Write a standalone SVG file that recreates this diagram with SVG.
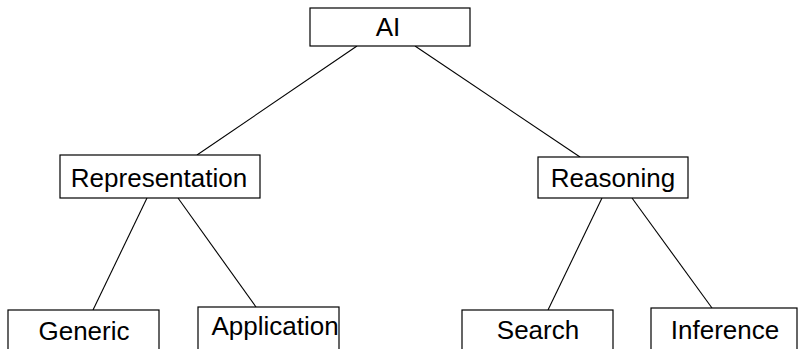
<svg xmlns="http://www.w3.org/2000/svg" width="801" height="349" viewBox="0 0 801 349">
  <style>
    .box { fill: #fff; stroke: #000; stroke-width: 1.2; }
    .lbl { font-family: "Liberation Sans", Arial, sans-serif; font-size: 26px; fill: #000; text-anchor: middle; }
    .edge { stroke: #000; stroke-width: 1.1; fill: none; }
  </style>
  <rect width="801" height="349" fill="#fff"/>
  <g id="connectors">
    <line class="edge" x1="357" y1="46" x2="197" y2="155"/>
    <line class="edge" x1="415" y1="46" x2="580" y2="157"/>
    <line class="edge" x1="147" y1="198" x2="93" y2="310"/>
    <line class="edge" x1="178" y1="198" x2="256" y2="307"/>
    <line class="edge" x1="602" y1="198" x2="548" y2="310"/>
    <line class="edge" x1="632" y1="198" x2="712" y2="308"/>
  </g>
  <g id="ai">
    <rect class="box" x="310" y="8" width="160" height="38"/>
    <text class="lbl" x="388" y="36">AI</text>
  </g>
  <g id="representation">
    <rect class="box" x="60" y="155" width="200" height="43"/>
    <text class="lbl" x="159" y="187">Representation</text>
  </g>
  <g id="reasoning">
    <rect class="box" x="538" y="157" width="150" height="41"/>
    <text class="lbl" x="613" y="187">Reasoning</text>
  </g>
  <g id="generic">
    <rect class="box" x="8" y="310" width="151" height="50"/>
    <text class="lbl" x="84" y="340">Generic</text>
  </g>
  <g id="application">
    <rect class="box" x="198" y="307" width="141" height="53"/>
    <text class="lbl" x="275" y="335">Application</text>
  </g>
  <g id="search">
    <rect class="box" x="462" y="310" width="151" height="50"/>
    <text class="lbl" x="538" y="339">Search</text>
  </g>
  <g id="inference">
    <rect class="box" x="651" y="308" width="146" height="52"/>
    <text class="lbl" x="725" y="339">Inference</text>
  </g>
</svg>
